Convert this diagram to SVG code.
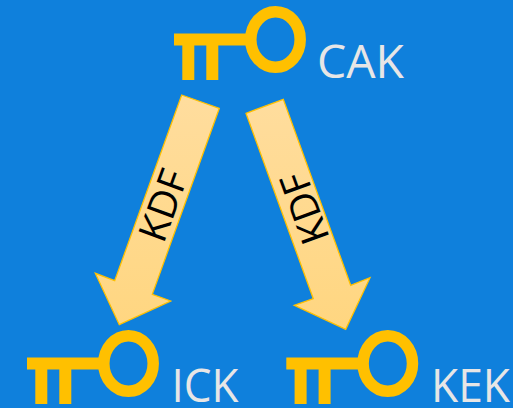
<svg xmlns="http://www.w3.org/2000/svg" width="513" height="408" viewBox="0 0 513 408">
<style>
.label{font-family:"Open Sans","Noto Sans",sans-serif;font-size:46px;fill:#e7e6e6}
.kdf{font-family:"Open Sans","Noto Sans",sans-serif;font-size:39px;fill:#000}
.arrow{fill:url(#g);stroke:#ffc000;stroke-width:1.3}
.keyfill{fill:#ffc000}
.ring{fill:none;stroke:#ffc000;stroke-width:11.5}
</style>
<defs>
<linearGradient id="g" gradientUnits="userSpaceOnUse" x1="0" y1="95" x2="0" y2="330"><stop offset="0" stop-color="#ffdd9e"/><stop offset="1" stop-color="#ffd680"/></linearGradient>
<g id="key">
<rect class="keyfill" x="174" y="33.5" width="76" height="12"/>
<rect class="keyfill" x="182.3" y="40" width="12" height="40"/>
<rect class="keyfill" x="206.3" y="40" width="12" height="40"/>
<ellipse class="ring" cx="275.5" cy="39.5" rx="24.7" ry="27.8"/>
</g>
</defs>
<rect width="513" height="408" fill="#0f80dc"/>
<g id="connectors">
<g id="arrow-left"><polygon class="arrow" points="181.7,95 219.3,108.3 152.3,294.3 170.7,301 119.3,324.7 95.3,273.3 114.7,280.7"/>
<text class="kdf" transform="translate(163.5,244.5) rotate(-70)" textLength="73" lengthAdjust="spacingAndGlyphs">KDF</text></g>
<g id="arrow-right"><polygon class="arrow" points="246,113.3 283.3,99.3 350.7,285.3 370,277.7 345.7,329.3 294.3,305.3 313.3,298.7"/>
<text class="kdf" transform="translate(330,238) rotate(-110)" textLength="73" lengthAdjust="spacingAndGlyphs">KDF</text></g>
</g>
<g id="cak"><use href="#key"/><text class="label" x="317" y="78" textLength="87" lengthAdjust="spacingAndGlyphs">CAK</text></g>
<g id="ick"><use href="#key" x="-147" y="324"/><text class="label" x="171.5" y="402" textLength="67" lengthAdjust="spacingAndGlyphs">ICK</text></g>
<g id="kek"><use href="#key" x="112.3" y="324"/><text class="label" x="431" y="402" textLength="79" lengthAdjust="spacingAndGlyphs">KEK</text></g>
</svg>
